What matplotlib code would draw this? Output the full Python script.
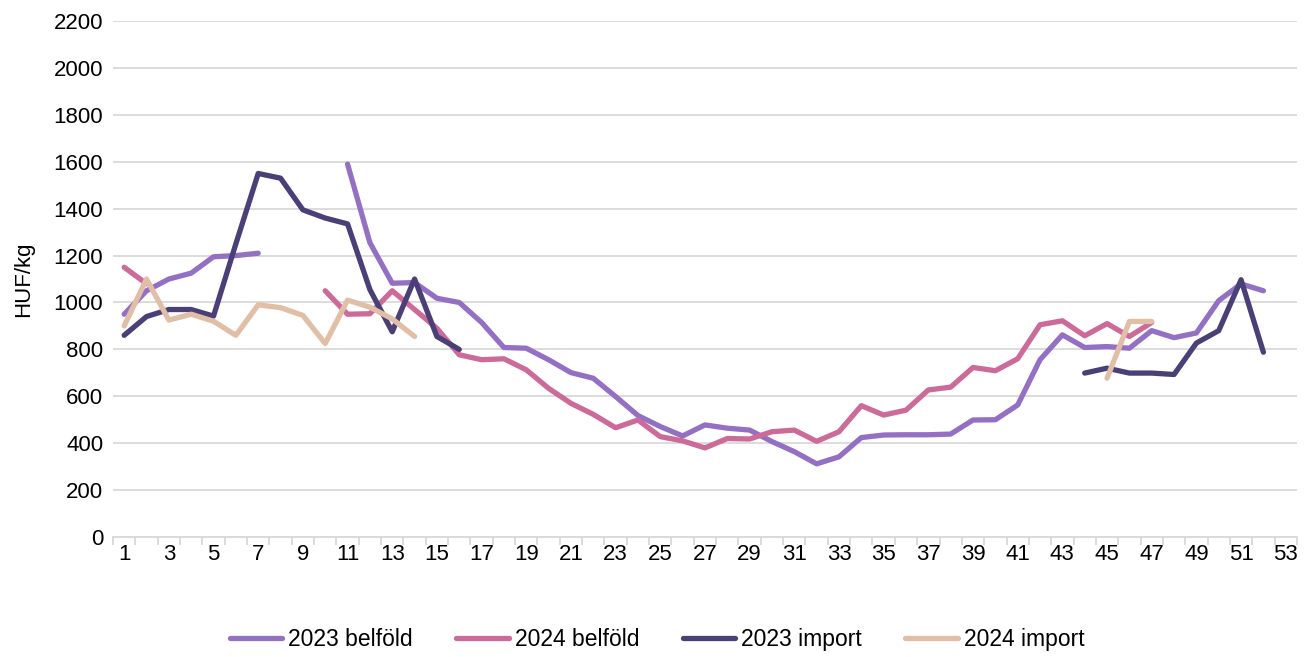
import numpy as np
import matplotlib
matplotlib.use("Agg")
import matplotlib.pyplot as plt

nan = np.nan
weeks = list(range(1, 53))

belfold_2023 = [950, 1050, 1100, 1125, 1195, 1200, 1210, nan, nan, nan,
                1590, 1255, 1082, 1085, 1018, 1000, 915, 808, 805, 756,
                701, 677, 599, 518, 471, 431, 478, 464, 456, 407,
                364, 312, 342, 424, 435, 436, 436, 439, 499, 500,
                563, 756, 862, 808, 812, 805, 880, 850, 870, 1008,
                1079, 1050]
belfold_2024 = [1150, 1080, nan, nan, nan, nan, nan, nan, nan, 1050,
                950, 952, 1050, 970, 890, 777, 756, 760, 713, 634,
                570, 523, 466, 499, 428, 410, 380, 420, 418, 449,
                456, 408, 449, 560, 520, 541, 627, 639, 723, 709,
                760, 905, 922, 858, 910, 855, 915, nan, nan, nan,
                nan, nan]
import_2023 = [860, 940, 970, 970, 942, 1250, 1550, 1530, 1395, 1360,
               1335, 1055, 875, 1100, 855, 800, nan, nan, nan, nan,
               nan, nan, nan, nan, nan, nan, nan, nan, nan, nan,
               nan, nan, nan, nan, nan, nan, nan, nan, nan, nan,
               nan, nan, nan, 699, 720, 699, 699, 693, 827, 880,
               1097, 788]
import_2024 = [900, 1100, 925, 950, 920, 860, 990, 978, 945, 825,
               1010, 980, 930, 855, nan, nan, nan, nan, nan, nan,
               nan, nan, nan, nan, nan, nan, nan, nan, nan, nan,
               nan, nan, nan, nan, nan, nan, nan, nan, nan, nan,
               nan, nan, nan, nan, 677, 919, 919, nan, nan, nan,
               nan, nan]

series = [
    ("2023 belföld", belfold_2023, "#9470C4"),
    ("2024 belföld", belfold_2024, "#CC6A9A"),
    ("2023 import", import_2023, "#4B3F77"),
    ("2024 import", import_2024, "#E0BFA6"),
]

plt.rcParams['font.family'] = ['Liberation Sans', 'DejaVu Sans']

fig = plt.figure(figsize=(13.14, 6.57), dpi=100)
ax = fig.add_axes([0.086, 0.1826, 0.901, 0.7854])

for name, vals, col in series:
    ax.plot(weeks, vals, color=col, lw=3.8, label=name,
            solid_capstyle='round', solid_joinstyle='round')

ax.set_xlim(0.5, 53.5)
ax.set_ylim(0, 2200)
ax.set_yticks(range(0, 2201, 200))
ax.set_xticks(range(1, 54, 2))
ax.set_xticks(np.arange(0.5, 54, 1), minor=True)
ax.tick_params(axis='x', which='major', length=0, pad=5, labelsize=16)
ax.tick_params(axis='x', which='minor', length=6, width=1.3, color='#D9D9D9')
ax.tick_params(axis='y', length=0, pad=7, labelsize=16)
ax.grid(axis='y', color='#D9D9D9', lw=1.3)
ax.set_axisbelow(True)
for s in ['top', 'right', 'left']:
    ax.spines[s].set_visible(False)
ax.spines['bottom'].set_color('#D9D9D9')
ax.spines['bottom'].set_linewidth(1.3)

ax.set_ylabel('HUF/kg', fontsize=16)
ax.yaxis.set_label_coords(-0.067, 0.5)

fig.legend(loc='center', bbox_to_anchor=(0.5, 0.026), ncol=4, frameon=False,
           fontsize=16.5, handlelength=2.3, handletextpad=0.25, columnspacing=1.9)

fig.savefig('out.png', dpi=100)
